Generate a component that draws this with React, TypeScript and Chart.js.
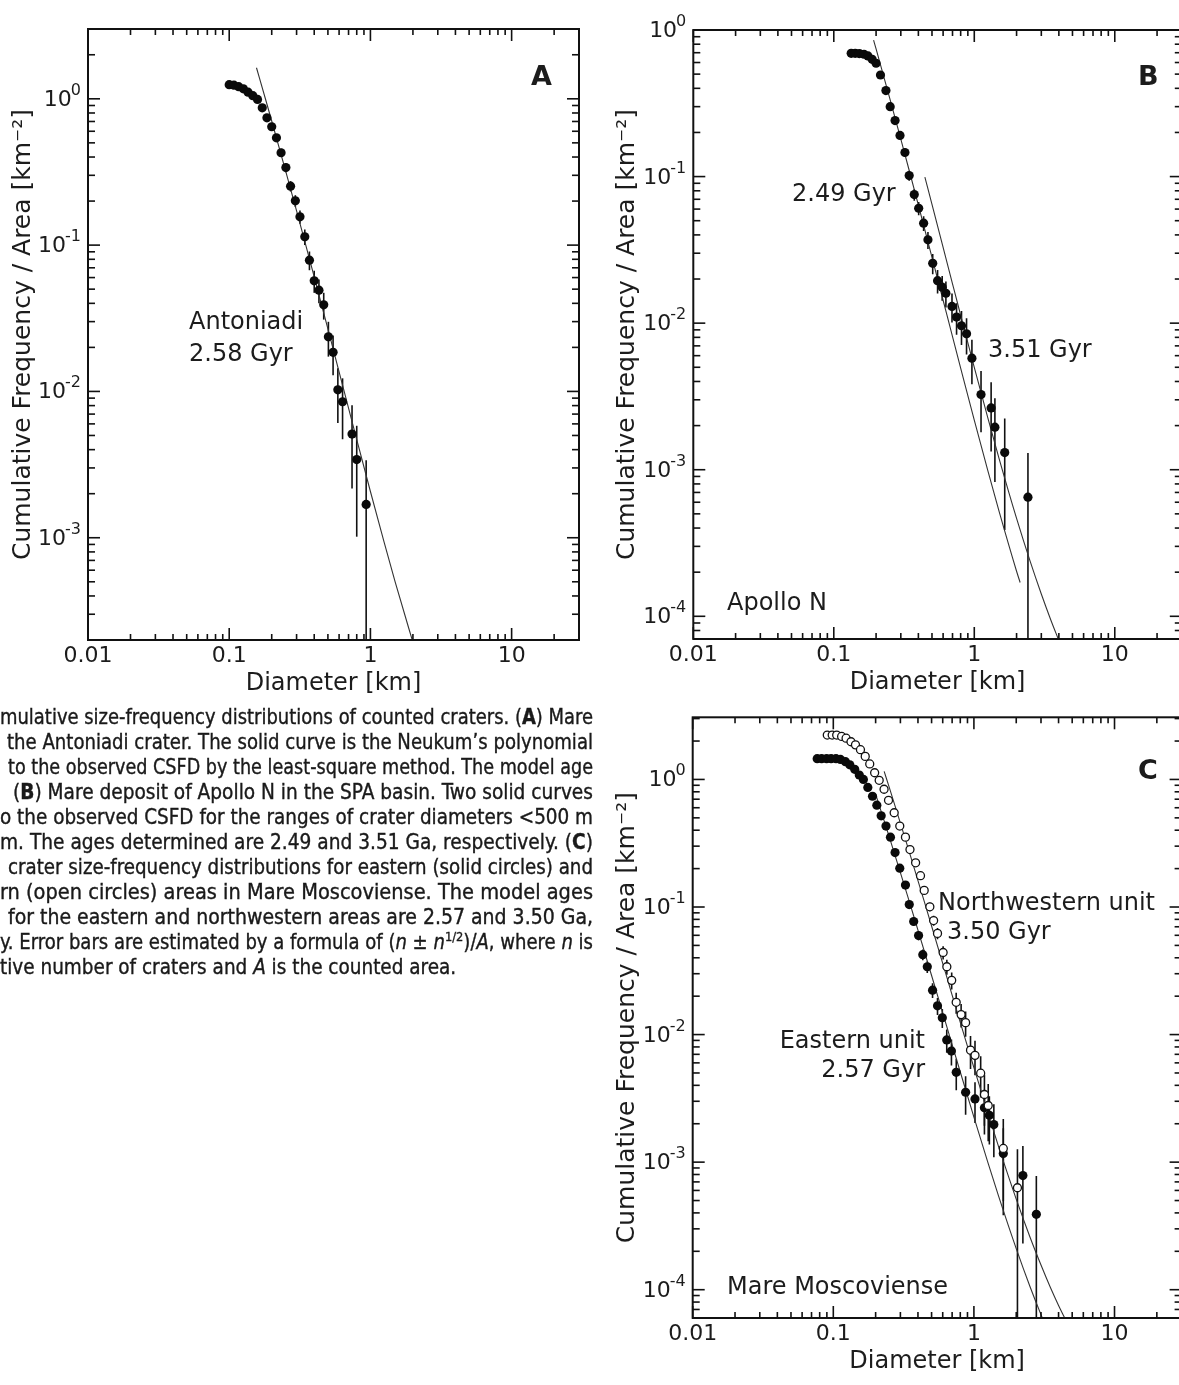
import React, { useEffect, useRef } from 'react';
import { Chart, registerables } from 'chart.js';

Chart.register(...registerables);

const FONT = '"DejaVu Sans", "Noto Sans", sans-serif';
const INK = '#1c1c1c';

// ---------- axis ticks ----------
const X_TICKS = [0.01, 0.1, 1, 10];
const X_TICK_LABELS = ['0.01', '0.1', '1', '10'];
const Y_TICKS = [1, 0.1, 0.01, 0.001, 0.0001];
const Y_TICK_EXPONENTS = ['0', '-1', '-2', '-3', '-4'];

// ---------- Panel A : Antoniadi ----------
const A_DIAM = [0.1, 0.108, 0.1166, 0.126, 0.136, 0.147, 0.1587, 0.1714, 0.185, 0.2, 0.216, 0.233, 0.252, 0.272, 0.294, 0.317, 0.343, 0.37, 0.4, 0.432, 0.467, 0.504, 0.544, 0.588, 0.635, 0.741, 0.8, 0.933];
const A_FREQ = [1.25, 1.24, 1.21, 1.17, 1.11, 1.05, 0.99, 0.868, 0.741, 0.644, 0.541, 0.428, 0.339, 0.253, 0.201, 0.156, 0.114, 0.0789, 0.057, 0.0492, 0.0391, 0.0236, 0.0185, 0.01025, 0.0085, 0.00511, 0.00342, 0.00169];
const A_AREA = 592;
const A_FIT_DIAM = [0.156, 0.18, 0.2, 0.25, 0.3, 0.35, 0.4, 0.45, 0.5, 0.6, 0.7, 0.8, 1.0, 1.25, 1.5, 1.96, 2.0];
const A_FIT_FREQ = [1.63, 1.0085, 0.7053, 0.3258, 0.1712, 0.0985, 0.06066, 0.03941, 0.02673, 0.01361, 0.00768, 0.00469, 0.00207, 0.000932, 0.000496, 0.000206, 0.000193];

// ---------- Panel B : Apollo N ----------
const B_DIAM = [0.133, 0.142, 0.152, 0.164, 0.175, 0.1875, 0.2, 0.215, 0.235, 0.252, 0.273, 0.296, 0.321, 0.344, 0.374, 0.402, 0.436, 0.468, 0.506, 0.548, 0.591, 0.628, 0.694, 0.748, 0.811, 0.881, 0.962, 1.117, 1.318, 1.402, 1.647, 2.41];
const B_FREQ = [0.693, 0.693, 0.69, 0.683, 0.665, 0.631, 0.593, 0.493, 0.386, 0.3, 0.241, 0.191, 0.146, 0.1016, 0.0754, 0.0608, 0.0481, 0.037, 0.0256, 0.0195, 0.0176, 0.016, 0.013, 0.011, 0.0096, 0.00846, 0.00577, 0.00326, 0.00264, 0.00195, 0.00131, 0.00065];
const B_AREA = 1540;
const B_FIT1_DIAM = [0.192, 0.2, 0.25, 0.3, 0.35, 0.4, 0.45, 0.5, 0.6, 0.7, 0.8, 1.0, 1.25, 1.5, 2.0, 2.12];
const B_FIT1_FREQ = [0.853, 0.7427, 0.3431, 0.1803, 0.1037, 0.0639, 0.0415, 0.02814, 0.01433, 0.00809, 0.00494, 0.00218, 0.000981, 0.000522, 0.000203, 0.00017];
const B_FIT2_DIAM = [0.445, 0.5, 0.6, 0.7, 0.8, 1.0, 1.25, 1.5, 2.0, 2.5, 3.0, 3.5, 4.0];
const B_FIT2_FREQ = [0.0992, 0.06455, 0.03287, 0.01855, 0.01132, 0.005, 0.00225, 0.001197, 0.000466, 0.000237, 0.000142, 0.0000948, 0.0000684];

// ---------- Panel C : Mare Moscoviense ----------
const C_E_DIAM = [0.0768, 0.0826, 0.0896, 0.0964, 0.1045, 0.1124, 0.122, 0.131, 0.142, 0.153, 0.1637, 0.176, 0.19, 0.204, 0.219, 0.237, 0.255, 0.275, 0.297, 0.326, 0.347, 0.373, 0.404, 0.433, 0.466, 0.508, 0.551, 0.596, 0.641, 0.692, 0.749, 0.873, 1.018, 1.188, 1.288, 1.386, 1.618, 2.23, 2.78];
const C_E_FREQ = [1.456, 1.456, 1.456, 1.456, 1.456, 1.434, 1.378, 1.302, 1.2, 1.083, 1.0, 0.866, 0.738, 0.628, 0.519, 0.431, 0.353, 0.267, 0.2015, 0.1486, 0.1045, 0.077, 0.0597, 0.0423, 0.034, 0.0223, 0.0168, 0.01355, 0.00908, 0.00743, 0.00506, 0.00353, 0.00313, 0.00267, 0.00233, 0.00197, 0.00117, 0.000784, 0.00039];
const C_E_AREA = 2560;
const C_NW_DIAM = [0.0906, 0.0982, 0.1057, 0.1146, 0.1233, 0.1336, 0.1438, 0.156, 0.1687, 0.1816, 0.1968, 0.212, 0.2296, 0.247, 0.271, 0.297, 0.326, 0.351, 0.385, 0.417, 0.443, 0.486, 0.517, 0.551, 0.604, 0.642, 0.695, 0.748, 0.811, 0.873, 0.946, 1.018, 1.117, 1.188, 1.264, 1.618, 2.04];
const C_NW_FREQ = [2.228, 2.228, 2.228, 2.174, 2.106, 1.975, 1.867, 1.71, 1.516, 1.323, 1.128, 0.984, 0.838, 0.686, 0.548, 0.431, 0.353, 0.282, 0.222, 0.176, 0.135, 0.1004, 0.0783, 0.0621, 0.044, 0.034, 0.0266, 0.0179, 0.01434, 0.0124, 0.00755, 0.00687, 0.00498, 0.00339, 0.00278, 0.00128, 0.00063];
const C_NW_AREA = 1590;
const C_E_FIT_DIAM = [0.2, 0.25, 0.3, 0.35, 0.4, 0.45, 0.5, 0.6, 0.7, 0.8, 1.0, 1.25, 1.5, 2.0, 2.5, 3.0, 3.5];
const C_E_FIT_FREQ = [0.7666, 0.3542, 0.1861, 0.1071, 0.0659, 0.04284, 0.02905, 0.01479, 0.00835, 0.00509, 0.00225, 0.001013, 0.000539, 0.00021, 0.0001065, 0.0000638, 0.0000426];
const C_NW_FIT_DIAM = [0.23, 0.25, 0.3, 0.35, 0.4, 0.45, 0.5, 0.6, 0.7, 0.8, 1.0, 1.25, 1.5, 2.0, 2.5, 3.0, 3.5, 4.0, 5.0];
const C_NW_FIT_FREQ = [1.156, 0.8657, 0.4548, 0.2617, 0.1612, 0.1047, 0.071, 0.03616, 0.0204, 0.01245, 0.0055, 0.002475, 0.001317, 0.000513, 0.00026, 0.000156, 0.000104, 0.0000753, 0.0000459];

// ---------- helpers ----------
const pts = (xs: number[], ys: number[]) => xs.map((x, i) => ({ x, y: ys[i] }));

const filledSet = (xs: number[], ys: number[], area: number) => ({
  data: pts(xs, ys),
  errArea: area,
  pointRadius: 4.6,
  pointBackgroundColor: '#0a0a0a',
  pointBorderColor: '#0a0a0a',
  pointBorderWidth: 0,
  showLine: false,
  order: 1,
});

const openSet = (xs: number[], ys: number[], area: number) => ({
  data: pts(xs, ys),
  errArea: area,
  pointRadius: 4,
  pointBackgroundColor: '#ffffff',
  pointBorderColor: '#111',
  pointBorderWidth: 1.3,
  showLine: false,
  order: 0,
});

const fitSet = (xs: number[], ys: number[]) => ({
  data: pts(xs, ys),
  showLine: true,
  pointRadius: 0,
  borderColor: '#333',
  borderWidth: 1.1,
  cubicInterpolationMode: 'monotone',
  order: 2,
});

const errorBars = {
  id: 'errorBars',
  beforeDatasetsDraw(chart: any) {
    const { ctx, chartArea: ca, scales } = chart;
    const ys = scales.y, xs = scales.x;
    ctx.save();
    ctx.beginPath();
    ctx.rect(ca.left, ca.top, ca.right - ca.left, ca.bottom - ca.top);
    ctx.clip();
    ctx.strokeStyle = '#111';
    ctx.lineWidth = 1.6;
    chart.data.datasets.forEach((ds: any) => {
      if (!ds.errArea) return;
      ds.data.forEach((p: any) => {
        // (n ± n^1/2)/A
        const err = Math.sqrt(p.y * ds.errArea) / ds.errArea;
        const lo = p.y - err;
        const hi = p.y + err;
        const px = xs.getPixelForValue(p.x);
        const pLo = lo > ys.min ? ys.getPixelForValue(lo) : ca.bottom;
        const pHi = ys.getPixelForValue(hi);
        ctx.beginPath();
        ctx.moveTo(px, pLo);
        ctx.lineTo(px, pHi);
        ctx.stroke();
      });
    });
    ctx.restore();
  },
};

const frameTicks = {
  id: 'frameTicks',
  afterDraw(chart: any) {
    const { ctx, chartArea: ca, scales } = chart;
    const xs = scales.x, ys = scales.y;
    ctx.save();
    ctx.strokeStyle = '#111';
    ctx.lineWidth = 1.6;
    const seg = (x1: number, y1: number, x2: number, y2: number) => {
      ctx.beginPath();
      ctx.moveTo(x1, y1);
      ctx.lineTo(x2, y2);
      ctx.stroke();
    };
    const eachTick = (sc: any, cb: (v: number, major: boolean) => void) => {
      const e0 = Math.floor(Math.log10(sc.min)) - 1;
      const e1 = Math.ceil(Math.log10(sc.max)) + 1;
      for (let e = e0; e <= e1; e++) {
        for (let m = 1; m <= 9; m++) {
          const v = m * Math.pow(10, e);
          if (v < sc.min * 0.9999 || v > sc.max * 1.0001) continue;
          cb(v, m === 1);
        }
      }
    };
    eachTick(xs, (v, major) => {
      const px = xs.getPixelForValue(v);
      const len = major ? 12 : 6;
      seg(px, ca.bottom, px, ca.bottom - len);
      seg(px, ca.top, px, ca.top + len);
    });
    eachTick(ys, (v, major) => {
      const py = ys.getPixelForValue(v);
      const len = major ? 12 : 7;
      seg(ca.left, py, ca.left + len, py);
      seg(ca.right, py, ca.right - len, py);
    });
    ctx.lineWidth = 2;
    ctx.strokeRect(ca.left, ca.top, ca.right - ca.left, ca.bottom - ca.top);

    // y tick labels: 10 with a raised exponent, placed by the y scale
    ctx.fillStyle = INK;
    ctx.textAlign = 'right';
    ctx.textBaseline = 'alphabetic';
    Y_TICKS.forEach((v, i) => {
      if (v < ys.min * 0.9999 || v > ys.max * 1.0001) return;
      const py = ys.getPixelForValue(v);
      const right = ca.left - 7;
      ctx.font = `16px ${FONT}`;
      const ew = ctx.measureText(Y_TICK_EXPONENTS[i]).width;
      ctx.fillText(Y_TICK_EXPONENTS[i], right, py - 4);
      ctx.font = `22px ${FONT}`;
      ctx.fillText('10', right - ew + 1, py + 7);
    });
    ctx.restore();
  },
};

type Note = { text: string; x: number; y: number; size: number; bold?: boolean; align?: CanvasTextAlign };

const notesPlugin = (notes: Note[]) => ({
  id: 'notes',
  afterDraw(chart: any) {
    const { ctx } = chart;
    ctx.save();
    ctx.fillStyle = INK;
    ctx.textBaseline = 'alphabetic';
    notes.forEach((n) => {
      ctx.font = `${n.bold ? 'bold ' : ''}${n.size}px ${FONT}`;
      ctx.textAlign = n.align || 'left';
      ctx.fillText(n.text, n.x, n.y);
    });
    ctx.restore();
  },
});

type PanelSpec = {
  datasets: any[];
  yMin: number;
  yMax: number;
  pad: { top: number; right: number };
  yWidth: number;
  xHeight: number;
  yTitlePad: number;
  xTitlePad: number;
  notes: Note[];
};

function makeConfig(spec: PanelSpec): any {
  return {
    type: 'scatter',
    data: { datasets: spec.datasets },
    options: {
      animation: false,
      responsive: false,
      maintainAspectRatio: false,
      devicePixelRatio: 1,
      layout: { padding: { left: 0, bottom: 0, top: spec.pad.top, right: spec.pad.right } },
      plugins: { legend: { display: false }, tooltip: { enabled: false } },
      scales: {
        x: {
          type: 'logarithmic',
          position: 'bottom',
          min: 0.01,
          max: 30,
          grid: { display: false, drawTicks: false },
          border: { display: false },
          afterBuildTicks: (s: any) => {
            s.ticks = X_TICKS.map((v) => ({ value: v }));
          },
          afterFit: (s: any) => {
            s.height = spec.xHeight;
          },
          ticks: {
            autoSkip: false,
            maxRotation: 0,
            padding: 3.5,
            color: INK,
            font: { family: FONT, size: 22 },
            callback: (v: number) => {
              const i = X_TICKS.findIndex((t) => Math.abs(t - v) / t < 1e-6);
              return i >= 0 ? X_TICK_LABELS[i] : '';
            },
          },
          title: {
            display: true,
            text: 'Diameter [km]',
            color: INK,
            font: { family: FONT, size: 24 },
            padding: { top: 0, bottom: spec.xTitlePad },
          },
        },
        y: {
          type: 'logarithmic',
          position: 'left',
          min: spec.yMin,
          max: spec.yMax,
          grid: { display: false, drawTicks: false },
          border: { display: false },
          afterBuildTicks: (s: any) => {
            s.ticks = Y_TICKS.filter((v) => v >= spec.yMin && v <= spec.yMax * 1.0001).map((v) => ({ value: v }));
          },
          afterFit: (s: any) => {
            s.width = spec.yWidth;
          },
          ticks: { display: false },
          title: {
            display: true,
            text: 'Cumulative Frequency / Area [km⁻²]',
            color: INK,
            font: { family: FONT, size: 25 },
            padding: { top: spec.yTitlePad, bottom: 0 },
          },
        },
      },
    },
    plugins: [errorBars, frameTicks, notesPlugin(spec.notes)],
  };
}

function Panel({ spec, left, top, width, height }: { spec: PanelSpec; left: number; top: number; width: number; height: number }) {
  const ref = useRef<HTMLCanvasElement>(null);
  useEffect(() => {
    const chart = new Chart(ref.current as HTMLCanvasElement, makeConfig(spec));
    return () => chart.destroy();
  }, []);
  return (
    <canvas
      ref={ref}
      width={width}
      height={height}
      style={{ position: 'absolute', left, top, width, height }}
    />
  );
}

const specA: PanelSpec = {
  datasets: [fitSet(A_FIT_DIAM, A_FIT_FREQ), filledSet(A_DIAM, A_FREQ, A_AREA)],
  yMin: 2e-4,
  yMax: 3,
  pad: { top: 29, right: 21 },
  yWidth: 88,
  xHeight: 65,
  yTitlePad: 8,
  xTitlePad: 6.6,
  notes: [
    { text: 'A', x: 531, y: 85, size: 27, bold: true },
    { text: 'Antoniadi', x: 189, y: 329, size: 24 },
    { text: '2.58 Gyr', x: 189, y: 361, size: 24 },
  ],
};

const specB: PanelSpec = {
  datasets: [
    fitSet(B_FIT1_DIAM, B_FIT1_FREQ),
    fitSet(B_FIT2_DIAM, B_FIT2_FREQ),
    filledSet(B_DIAM, B_FREQ, B_AREA),
  ],
  yMin: 7e-5,
  yMax: 1,
  pad: { top: 30, right: 18.2 },
  yWidth: 93.3,
  xHeight: 71,
  yTitlePad: 12.5,
  xTitlePad: 12.6,
  notes: [
    { text: 'B', x: 538, y: 85, size: 27, bold: true },
    { text: '2.49 Gyr', x: 192, y: 201, size: 24 },
    { text: '3.51 Gyr', x: 388, y: 357, size: 24 },
    { text: 'Apollo N', x: 127, y: 610, size: 24 },
  ],
};

const specC: PanelSpec = {
  datasets: [
    fitSet(C_E_FIT_DIAM, C_E_FIT_FREQ),
    fitSet(C_NW_FIT_DIAM, C_NW_FIT_FREQ),
    filledSet(C_E_DIAM, C_E_FREQ, C_E_AREA),
    openSet(C_NW_DIAM, C_NW_FREQ, C_NW_AREA),
  ],
  yMin: 6e-5,
  yMax: 3.07,
  pad: { top: 17.3, right: 18.4 },
  yWidth: 92.7,
  xHeight: 82,
  yTitlePad: 12.5,
  xTitlePad: 23.6,
  notes: [
    { text: 'C', x: 538, y: 79, size: 27, bold: true },
    { text: 'Northwestern unit', x: 338, y: 210, size: 24 },
    { text: '3.50 Gyr', x: 347, y: 239, size: 24 },
    { text: 'Eastern unit', x: 325, y: 348, size: 24, align: 'right' },
    { text: '2.57 Gyr', x: 325, y: 377, size: 24, align: 'right' },
    { text: 'Mare Moscoviense', x: 127, y: 594, size: 24 },
  ],
};

// ---------- caption (visible part of the figure legend) ----------
const CAPTION_FONT = '"Liberation Sans Narrow", "DejaVu Sans Condensed", "Liberation Sans", sans-serif';
const CAP_RIGHT = 593;

function Caption() {
  const line = (x: number, y: number, content: React.ReactNode, justify = true) => (
    <text
      x={x}
      y={y}
      {...(justify ? { textLength: CAP_RIGHT - x, lengthAdjust: 'spacingAndGlyphs' } : {})}
    >
      {content}
    </text>
  );
  return (
    <svg
      width={600}
      height={300}
      style={{ position: 'absolute', left: 0, top: 690 }}
      fontFamily={CAPTION_FONT}
      fontSize={20.5}
      fill="#1a1a1a"
      stroke="#1a1a1a"
      strokeWidth={0.35}
    >
      {line(0, 34, <>mulative size-frequency distributions of counted craters. (<tspan fontWeight="bold">A</tspan>) Mare</>)}
      {line(7, 59, <>the Antoniadi crater. The solid curve is the Neukum’s polynomial</>)}
      {line(8, 84, <>to the observed CSFD by the least-square method. The model age</>)}
      {line(13, 109, <>(<tspan fontWeight="bold">B</tspan>) Mare deposit of Apollo N in the SPA basin. Two solid curves</>)}
      {line(0, 134, <>o the observed CSFD for the ranges of crater diameters &lt;500 m</>)}
      {line(0, 159, <>m. The ages determined are 2.49 and 3.51 Ga, respectively. (<tspan fontWeight="bold">C</tspan>)</>)}
      {line(8, 184, <>crater size-frequency distributions for eastern (solid circles) and</>)}
      {line(0, 209, <>rn (open circles) areas in Mare Moscoviense. The model ages</>)}
      {line(8, 234, <>for the eastern and northwestern areas are 2.57 and 3.50 Ga,</>)}
      {line(0, 259, <>y. Error bars are estimated by a formula of (<tspan fontStyle="italic">n</tspan> ± <tspan fontStyle="italic">n</tspan><tspan fontSize={13} dy={-8}>1/2</tspan><tspan dy={8}>)/</tspan><tspan fontStyle="italic">A</tspan>, where <tspan fontStyle="italic">n</tspan> is</>)}
      {line(0, 284, <>tive number of craters and <tspan fontStyle="italic">A</tspan> is the counted area.</>, false)}
    </svg>
  );
}

export default function App() {
  return (
    <div
      style={{
        position: 'absolute',
        left: 0,
        top: 0,
        width: 1179,
        height: 1385,
        overflow: 'hidden',
        background: '#ffffff',
      }}
    >
      <Panel spec={specA} left={0} top={0} width={600} height={705} />
      <Panel spec={specB} left={600} top={0} width={600} height={710} />
      <Panel spec={specC} left={600} top={700} width={600} height={700} />
      <Caption />
    </div>
  );
}
